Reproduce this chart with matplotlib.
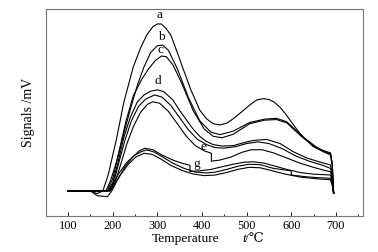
import matplotlib
matplotlib.use("Agg")
import matplotlib.pyplot as plt
from matplotlib.ticker import MultipleLocator

plt.rcParams['font.family'] = ['Liberation Serif', 'DejaVu Serif']

# -------- Data (temperature in C, signal in arbitrary units) --------
t_a = [100, 150, 165, 178, 190, 208, 225, 246, 262, 276, 290, 300, 309, 320, 330, 343, 358, 375, 395,
       410, 425, 440, 455, 470, 490, 507, 522, 537, 550, 562, 575, 589, 605, 619, 635, 649, 665, 679, 688, 692, 694]
s_a = [12.1, 12.1, 10.8, 12.1, 20, 36.7, 55, 72, 81, 87.4, 91.5, 92.8, 92.8, 90.5, 87.5, 80, 71, 61, 51.2,
       47, 44.6, 44, 44.8, 47, 50.5, 53.6, 56, 56.7, 56.3, 55, 52.5, 48.8, 44, 40, 36.5, 33.5, 32, 31.1, 30.5, 25, 11]

t_b = [100, 150, 185, 195, 210, 225, 240, 255, 270, 285, 300, 312, 325, 345, 370, 395, 420, 440, 470,
       507, 540, 567, 590, 610, 625, 640, 655, 672, 688, 692, 695]
s_b = [12.1, 12.1, 12.1, 17, 27, 40, 52, 63, 72, 79, 82.3, 82.6, 80, 71, 57, 46, 40.5, 39.3, 41,
       45.2, 46.8, 47.2, 45.5, 41.5, 38.3, 36, 33.5, 31.5, 30, 25, 11]

t_c = [100, 150, 188, 200, 215, 230, 246, 265, 280, 295, 309, 320, 335, 355, 380, 405, 425, 445, 470,
       507, 540, 567, 590, 610, 625, 640, 655, 672, 688, 692, 695]
s_c = [12.1, 12.1, 12.1, 18, 32, 46, 58, 66, 71, 75, 77.3, 77, 73, 64, 51, 42, 38.5, 37.8, 39.5,
       44.6, 46.3, 46.6, 45, 41, 38, 35.5, 33, 31, 29.5, 24, 11]

t_d = [100, 150, 190, 200, 212, 225, 240, 255, 270, 285, 300, 315, 335, 350, 365, 380, 395, 410, 425,
       445, 470, 495, 515, 545, 575, 605, 635, 665, 688, 692, 695]
s_d = [12.1, 12.1, 12.1, 16, 26, 38, 48, 55, 58.5, 60.3, 61, 60, 56, 51, 46.5, 42, 38.5, 36, 34.5,
       33.8, 34, 35.5, 36.5, 37, 35, 31, 28, 26, 24.6, 20, 11]

t_e = [100, 150, 192, 202, 214, 228, 242, 258, 274, 294, 310, 330, 350, 370, 390, 410, 430, 450, 475,
       500, 525, 550, 580, 610, 640, 670, 688, 692, 695]
s_e = [12.1, 12.1, 12.1, 16, 26, 37, 46, 53, 56.5, 58.5, 57.5, 53.5, 47.5, 41.5, 37, 34.5, 33, 32.8, 33.5,
       35, 35.8, 35, 32.5, 29, 26.5, 24.5, 23, 19, 11]

t_f = [100, 150, 195, 205, 218, 232, 246, 262, 278, 290, 305, 325, 345, 365, 385, 405, 421, 421, 440,
       465, 490, 510, 535, 560, 590, 620, 650, 675, 688, 692, 695]
s_f = [12.1, 12.1, 12.1, 16, 25, 35, 43, 50, 54, 55.2, 54.5, 50.5, 44.5, 38.5, 34, 31.5, 30.3, 26.5, 27,
       28.5, 30.8, 32, 32, 30.5, 28, 25.5, 23.5, 22, 21.4, 17, 11]

t_g = [100, 150, 165, 188, 198, 212, 228, 245, 260, 272, 290, 310, 335, 355, 373, 373, 395, 420, 445,
       470, 495, 515, 540, 565, 590, 620, 650, 688, 692, 695]
s_g = [12.1, 12.1, 9.8, 9.3, 12.1, 18, 24, 28.5, 31.5, 32.7, 32, 29.5, 27, 25.5, 24.5, 21.5, 21.8, 22.5, 23.8,
       25, 26, 26.2, 25.5, 24, 22.5, 21, 20.2, 19.8, 16, 11]

t_h = [100, 150, 190, 200, 215, 232, 250, 265, 276, 292, 312, 335, 360, 385, 410, 430, 455, 480,
       505, 530, 560, 600, 600, 630, 660, 688, 692, 695]
s_h = [12.1, 12.1, 12.1, 15.5, 21, 26, 29.5, 31.2, 31.9, 31, 28.5, 25.5, 23, 21.2, 20.8, 21.2, 22.5, 24,
       25, 24.8, 23, 21.8, 19.8, 19, 18.5, 18.2, 15, 11]

t_i = [100, 150, 192, 203, 218, 235, 252, 270, 288, 308, 330, 355, 380, 405, 430, 455, 480,
       505, 530, 555, 585, 620, 655, 688, 692, 695]
s_i = [12.1, 12.1, 12.1, 15, 20, 25, 28.5, 30.3, 29.8, 27.5, 24.5, 22, 20.3, 19.5, 19.8, 21, 22.5,
       23.5, 23.3, 22, 20.3, 18.8, 18, 17.5, 14.5, 11]

curves = [(t_a, s_a), (t_b, s_b), (t_c, s_c), (t_d, s_d), (t_e, s_e),
          (t_f, s_f), (t_g, s_g), (t_h, s_h), (t_i, s_i)]

label_text = ["a", "b", "c", "d", "e", "g"]
label_t = [305, 309, 308, 302, 403, 389]
label_s = [97, 86.6, 80, 65, 33.5, 25]

# -------- Plot --------
fig = plt.figure(figsize=(3.78, 2.52), dpi=100)
ax = fig.add_axes([0.121, 0.143, 0.8385, 0.821])

for t, s in curves:
    ax.plot(t, s, color="black", lw=0.8)

for txt, x, y in zip(label_text, label_t, label_s):
    ax.text(x, y, txt, fontsize=9.5, ha="center", va="center")

ax.set_xlim(50, 760)
ax.set_ylim(0, 100)
ax.xaxis.set_minor_locator(MultipleLocator(50))
ax.set_xticks(range(100, 701, 100))
ax.tick_params(axis="x", which="major", direction="in", length=3, width=0.6, labelsize=8.8, pad=3)
ax.tick_params(axis="x", which="minor", direction="in", length=1.5, width=0.6)
ax.set_yticks([])
for sp in ax.spines.values():
    sp.set_color("#777777")
    sp.set_linewidth(0.8)

ax.set_ylabel("Signals /mV", fontsize=10, labelpad=8)
fig.text(0.492, 0.052, "Temperature", fontsize=9.6, ha="center", va="center")
fig.text(0.645, 0.052, "t", fontsize=9.6, ha="center", va="center", style="italic")
fig.text(0.672, 0.052, "/\u2103", fontsize=9.6, ha="center", va="center")

fig.savefig("out.png", dpi=100)
